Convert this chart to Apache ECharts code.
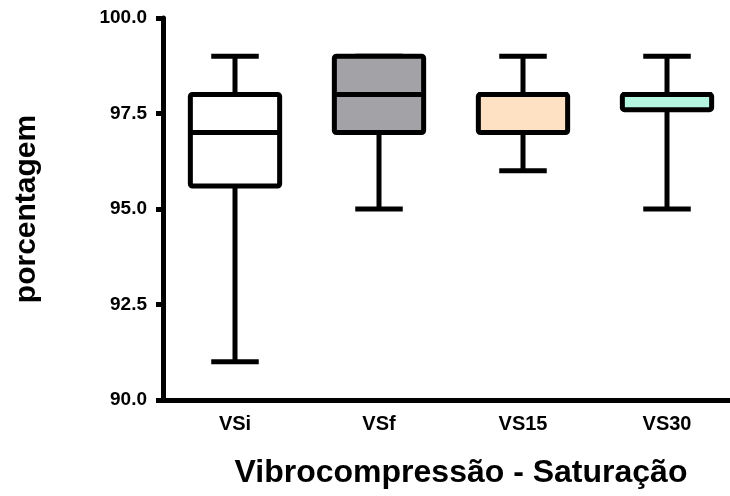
<!DOCTYPE html>
<html>
<head>
<meta charset="utf-8">
<script src="https://cdn.jsdelivr.net/npm/echarts@6/dist/echarts.min.js"></script>
<style>html,body{margin:0;padding:0;background:#fff}#c{width:730px;height:496px}</style>
</head>
<body>
<div id="c"></div>
<script>
var categories = ['VSi', 'VSf', 'VS15', 'VS30'];
var whiskerLow = [91, 95, 96, 95];
var q1 = [95.6, 97, 97, 97.6];
var median = [97, 98, 98, 98];
var q3 = [98, 99, 98, 98];
var whiskerHigh = [99, 99, 99, 99];
var yTicks = [90, 92.5, 95, 97.5, 100];
var fills = ['#ffffff', '#a3a2a7', '#fee0c3', '#b4f6df'];

var FONT = '"Liberation Sans", Arial, sans-serif';
var data = categories.map(function (c, i) {
  return [i, whiskerLow[i], q1[i], median[i], q3[i], whiskerHigh[i]];
});

var chart = echarts.init(document.getElementById('c'));
chart.setOption({
  animation: false,
  grid: { left: 163, top: 18, bottom: 96, width: 576, outerBoundsMode: 'none' },
  xAxis: {
    type: 'category',
    data: categories,
    axisLine: { lineStyle: { color: '#000', width: 5 } },
    axisTick: { alignWithLabel: true, length: 8, lineStyle: { color: '#000', width: 5 } },
    axisLabel: { color: '#000', fontFamily: FONT, fontWeight: 'bold', fontSize: 20, margin: 14 },
    name: 'Vibrocompressão - Saturação',
    nameLocation: 'middle',
    nameGap: 57,
    nameTextStyle: { color: '#000', fontFamily: FONT, fontWeight: 'bold', fontSize: 32, padding: [0, 0, 0, 20] }
  },
  yAxis: {
    type: 'value',
    min: 90, max: 100, interval: 2.5,
    axisLine: { show: true, lineStyle: { color: '#000', width: 5 } },
    axisTick: { show: true, length: 7, lineStyle: { color: '#000', width: 5 } },
    splitLine: { show: false },
    axisLabel: {
      color: '#000', fontFamily: FONT, fontWeight: 'bold', fontSize: 19, margin: 16,
      formatter: function (v) { return yTicks.indexOf(v) >= 0 ? v.toFixed(1) : ''; }
    },
    name: 'porcentagem',
    nameLocation: 'middle',
    nameGap: 121,
    nameTextStyle: { color: '#000', fontFamily: FONT, fontWeight: 'bold', fontSize: 30 }
  },
  series: [{
    type: 'custom',
    data: data,
    encode: { x: 0, y: [1, 2, 3, 4, 5] },
    renderItem: function (params, api) {
      var i = api.value(0);
      var band = api.size([1, 0])[0];
      var bw = band * 0.62, cw = band * 0.33;
      var pLow = api.coord([i, api.value(1)]);
      var pQ1 = api.coord([i, api.value(2)]);
      var pMed = api.coord([i, api.value(3)]);
      var pQ3 = api.coord([i, api.value(4)]);
      var pHigh = api.coord([i, api.value(5)]);
      var x = pLow[0];
      var ls = { stroke: '#000', lineWidth: 5, fill: null };
      return {
        type: 'group',
        children: [
          { type: 'line', shape: { x1: x, y1: pHigh[1], x2: x, y2: pQ3[1] }, style: ls },
          { type: 'line', shape: { x1: x, y1: pQ1[1], x2: x, y2: pLow[1] }, style: ls },
          { type: 'line', shape: { x1: x - cw / 2, y1: pHigh[1], x2: x + cw / 2, y2: pHigh[1] }, style: ls },
          { type: 'line', shape: { x1: x - cw / 2, y1: pLow[1], x2: x + cw / 2, y2: pLow[1] }, style: ls },
          { type: 'rect', shape: { x: x - bw / 2, y: pQ3[1], width: bw, height: pQ1[1] - pQ3[1], r: 2 },
            style: { fill: fills[i], stroke: '#000', lineWidth: 5, lineJoin: 'round' } },
          { type: 'line', shape: { x1: x - bw / 2, y1: pMed[1], x2: x + bw / 2, y2: pMed[1] }, style: ls }
        ]
      };
    }
  }]
});
</script>
</body>
</html>
